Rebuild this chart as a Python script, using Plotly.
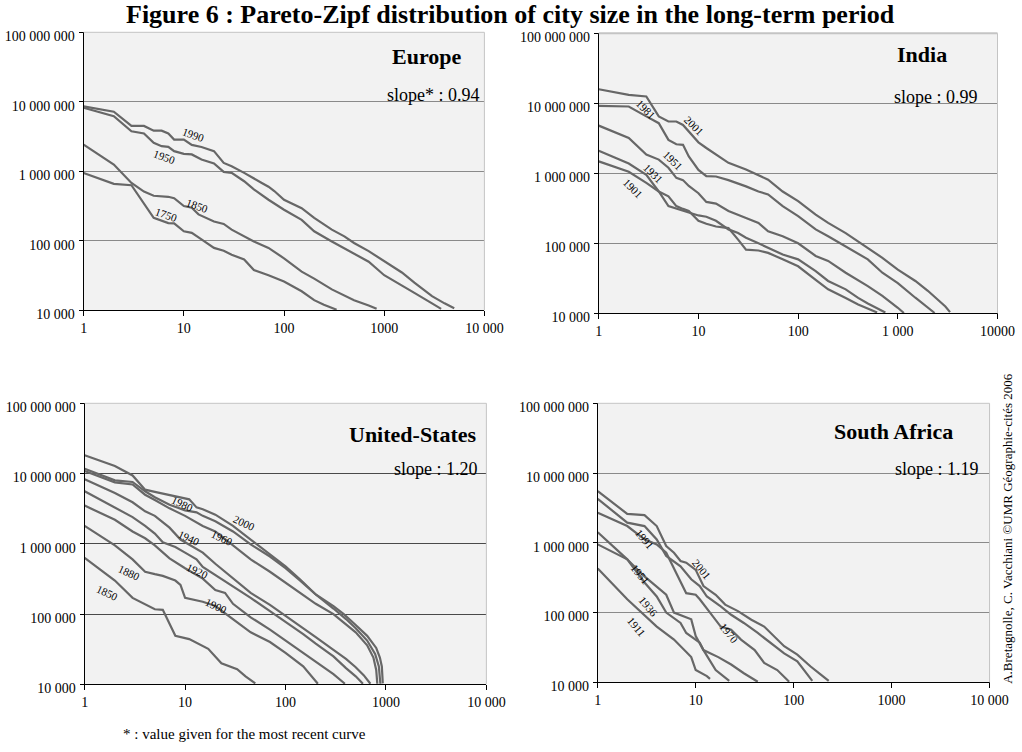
import plotly.graph_objects as go

# ---------------- data (rank, population) ----------------
# Europe
eu_1990_rank = [1, 2, 3, 4, 5, 6, 7, 8, 10, 12, 15, 17, 20, 25, 30, 40, 50, 60, 70, 80, 100, 150, 200, 300, 400, 500, 700, 1000, 1500, 2000, 3000, 4000, 5000]
eu_1990_pop = [8.6e6, 7.2e6, 4.5e6, 4.5e6, 3.85e6, 3.85e6, 3.5e6, 2.86e6, 2.86e6, 2.4e6, 2.24e6, 2.1e6, 1.95e6, 1.32e6, 1.18e6, 0.95e6, 0.80e6, 0.68e6, 0.60e6, 0.52e6, 0.39e6, 0.295e6, 0.214e6, 0.145e6, 0.116e6, 93e3, 71e3, 51e3, 35e3, 25e3, 16e3, 12.6e3, 10.7e3]
eu_1950_rank = [1, 2, 3, 4, 5, 6, 7, 8, 10, 12, 15, 20, 25, 30, 40, 50, 70, 100, 150, 200, 300, 500, 700, 1000, 1500, 2000, 3000, 3700]
eu_1950_pop = [8.2e6, 6.2e6, 3.76e6, 3.5e6, 2.57e6, 2.3e6, 2.25e6, 1.95e6, 1.78e6, 1.75e6, 1.48e6, 1.3e6, 0.98e6, 0.95e6, 0.72e6, 0.55e6, 0.39e6, 0.28e6, 0.20e6, 0.137e6, 98e3, 66e3, 50e3, 32e3, 23e3, 17.8e3, 12.6e3, 10.5e3]
eu_1850_rank = [1, 2, 3, 4, 5, 7, 8, 10, 12, 14, 20, 25, 30, 40, 50, 70, 100, 150, 200, 300, 500, 700, 840]
eu_1850_pop = [2.42e6, 1.25e6, 0.68e6, 0.51e6, 0.445e6, 0.43e6, 0.41e6, 0.316e6, 0.30e6, 0.24e6, 0.19e6, 0.175e6, 0.145e6, 0.116e6, 98e3, 79e3, 56e3, 36e3, 28.6e3, 20e3, 14e3, 11.7e3, 10.5e3]
eu_1750_rank = [1, 2, 3, 4, 5, 7, 8, 10, 12, 15, 20, 25, 30, 40, 50, 70, 100, 150, 200, 250, 300, 335]
eu_1750_pop = [0.946e6, 0.66e6, 0.63e6, 0.35e6, 0.214e6, 0.18e6, 0.178e6, 0.137e6, 0.13e6, 0.105e6, 79e3, 72e3, 63e3, 54e3, 38e3, 32e3, 26e3, 18.8e3, 14e3, 12e3, 10.7e3, 10.2e3]

# India
in_2001_rank = [1, 2, 3, 4, 5, 6, 7, 8, 10, 12, 15, 20, 30, 40, 50, 70, 100, 150, 200, 300, 500, 700, 1000, 1500, 2000, 2500, 3000, 3340]
in_2001_pop = [15.9e6, 13.2e6, 12.5e6, 6.5e6, 5.5e6, 5.5e6, 4.9e6, 4.0e6, 2.77e6, 2.3e6, 1.85e6, 1.41e6, 1.13e6, 0.95e6, 0.81e6, 0.55e6, 0.40e6, 0.257e6, 0.196e6, 0.14e6, 86e3, 62e3, 42e3, 29e3, 21e3, 16e3, 12.5e3, 10.4e3]
in_1981_rank = [1, 2, 3, 4, 5, 6, 7, 8, 10, 12, 15, 20, 30, 40, 50, 70, 100, 150, 200, 300, 500, 700, 1000, 1500, 2000, 2340]
in_1981_pop = [9.2e6, 9.0e6, 6.5e6, 5.2e6, 3.0e6, 2.6e6, 2.55e6, 1.74e6, 1.12e6, 0.91e6, 0.9e6, 0.8e6, 0.65e6, 0.55e6, 0.50e6, 0.34e6, 0.245e6, 0.158e6, 0.126e6, 91e3, 59e3, 38e3, 27e3, 16.7e3, 12e3, 10.1e3]
in_1951_rank = [1, 2, 3, 4, 5, 6, 7, 8, 10, 12, 15, 20, 30, 40, 50, 70, 100, 150, 200, 300, 500, 700, 1000, 1150]
in_1951_pop = [4.8e6, 3.2e6, 1.85e6, 1.57e6, 1.2e6, 0.86e6, 0.80e6, 0.66e6, 0.52e6, 0.39e6, 0.37e6, 0.29e6, 0.23e6, 0.196e6, 0.148e6, 0.126e6, 0.1e6, 66e3, 56e3, 38e3, 24.5e3, 17.7e3, 12e3, 10.1e3]
in_1931_rank = [1, 2, 3, 4, 5, 6, 7, 8, 10, 12, 15, 20, 25, 30, 40, 50, 70, 100, 150, 200, 300, 400, 500, 750]
in_1931_pop = [2.1e6, 1.38e6, 0.95e6, 0.55e6, 0.34e6, 0.31e6, 0.29e6, 0.275e6, 0.25e6, 0.24e6, 0.21e6, 0.158e6, 0.14e6, 0.12e6, 0.1e6, 87e3, 69e3, 59e3, 40e3, 29e3, 22e3, 16.6e3, 13.8e3, 10.3e3]
in_1901_rank = [1, 2, 3, 4, 5, 6, 7, 8, 10, 12, 15, 20, 25, 30, 40, 50, 70, 100, 150, 200, 300, 400, 620]
in_1901_pop = [1.48e6, 1.05e6, 0.73e6, 0.55e6, 0.47e6, 0.34e6, 0.31e6, 0.29e6, 0.21e6, 0.19e6, 0.174e6, 0.165e6, 0.113e6, 81e3, 79e3, 73e3, 59e3, 47e3, 30e3, 22e3, 16.6e3, 13.4e3, 10.3e3]

# United-States
us_2000_rank = [1, 2, 3, 4, 5, 7, 10, 11, 13, 15, 20, 30, 45, 70, 100, 140, 200, 300, 380, 500, 650, 800, 870, 910, 930]
us_2000_pop = [18.2e6, 12.8e6, 9.4e6, 5.9e6, 5.5e6, 5.0e6, 4.5e6, 4.3e6, 3.3e6, 3.1e6, 2.6e6, 1.8e6, 1.15e6, 0.72e6, 0.48e6, 0.31e6, 0.19e6, 0.13e6, 0.10e6, 70e3, 49e3, 33e3, 24e3, 18e3, 10.3e3]
us_1980_rank = [1, 2, 3, 4, 5, 7, 10, 13, 15, 20, 30, 45, 70, 100, 140, 200, 300, 400, 500, 650, 780, 850, 880]
us_1980_pop = [11.7e6, 8.0e6, 7.6e6, 5.6e6, 4.6e6, 3.6e6, 3.0e6, 2.8e6, 2.5e6, 2.1e6, 1.5e6, 0.98e6, 0.66e6, 0.45e6, 0.30e6, 0.19e6, 0.12e6, 85e3, 63e3, 42e3, 27e3, 18e3, 10.2e3]
us_1960_rank = [1, 2, 3, 4, 5, 7, 10, 15, 20, 30, 45, 70, 100, 140, 200, 300, 400, 500, 650, 750, 800, 820]
us_1960_pop = [10.9e6, 7.5e6, 7.0e6, 5.0e6, 4.2e6, 3.2e6, 2.5e6, 1.8e6, 1.5e6, 0.95e6, 0.60e6, 0.40e6, 0.28e6, 0.20e6, 0.14e6, 0.10e6, 72e3, 55e3, 36e3, 24e3, 16e3, 10.2e3]
us_1940_rank = [1, 2, 3, 4, 5, 7, 9, 12, 15, 20, 30, 45, 70, 100, 150, 200, 300, 400, 500, 600, 700]
us_1940_pop = [8.3e6, 5.3e6, 3.9e6, 2.9e6, 2.5e6, 1.7e6, 1.15e6, 0.9e6, 0.75e6, 0.52e6, 0.32e6, 0.20e6, 0.135e6, 95e3, 63e3, 47e3, 31e3, 23e3, 17.5e3, 13.5e3, 10.2e3]
us_1920_rank = [1, 2, 3, 4, 5, 6, 8, 10, 13, 15, 20, 30, 45, 70, 100, 150, 200, 300, 400, 500, 590]
us_1920_pop = [5.6e6, 3.3e6, 2.4e6, 1.8e6, 1.4e6, 1.05e6, 0.9e6, 0.75e6, 0.6e6, 0.47e6, 0.36e6, 0.25e6, 0.17e6, 0.11e6, 78e3, 52e3, 38e3, 25e3, 17e3, 13e3, 10.2e3]
us_1900_rank = [1, 2, 3, 4, 5, 7, 10, 15, 20, 25, 30, 45, 70, 100, 150, 200, 300, 390]
us_1900_pop = [3.5e6, 2.2e6, 1.5e6, 1.2e6, 0.95e6, 0.62e6, 0.45e6, 0.32e6, 0.22e6, 0.2e6, 0.14e6, 90e3, 60e3, 42e3, 28e3, 21e3, 14e3, 10.2e3]
us_1880_rank = [1, 2, 3, 4, 5, 6, 8, 9, 10, 15, 20, 30, 45, 70, 100, 150, 210]
us_1880_pop = [1.8e6, 0.95e6, 0.6e6, 0.4e6, 0.37e6, 0.35e6, 0.3e6, 0.26e6, 0.17e6, 0.15e6, 0.13e6, 85e3, 55e3, 40e3, 28e3, 18e3, 10.2e3]
us_1850_rank = [1, 2, 3, 5, 6, 8, 11, 17, 23, 33, 40, 50]
us_1850_pop = [0.63e6, 0.3e6, 0.17e6, 0.117e6, 0.115e6, 49e3, 44e3, 32e3, 20e3, 16.4e3, 13e3, 10.3e3]

# South Africa
sa_2001_rank = [1, 2, 3, 4, 5, 6, 7, 8, 10, 12, 16, 20, 27, 37, 50, 63, 80, 109, 148, 188, 228]
sa_2001_pop = [5.5e6, 2.6e6, 2.5e6, 1.74e6, 0.9e6, 0.72e6, 0.55e6, 0.52e6, 0.41e6, 0.24e6, 0.18e6, 0.13e6, 0.105e6, 79e3, 63e3, 46e3, 33e3, 25e3, 17e3, 13e3, 10.5e3]
sa_1991_rank = [1, 2, 3, 4, 5, 7, 9, 11, 13, 18, 23, 31, 43, 58, 80, 109, 155]
sa_1991_pop = [4.26e6, 1.95e6, 1.74e6, 1.12e6, 0.65e6, 0.46e6, 0.30e6, 0.24e6, 0.17e6, 0.123e6, 93e3, 71e3, 51e3, 37e3, 26e3, 20e3, 10.5e3]
sa_1970_rank = [1, 2, 3, 4, 5, 6, 8, 10, 11, 14, 18, 23, 29, 40, 50, 68, 90]
sa_1970_pop = [2.7e6, 1.74e6, 1.12e6, 0.95e6, 0.72e6, 0.42e6, 0.19e6, 0.18e6, 0.155e6, 0.1e6, 63e3, 57e3, 41e3, 29e3, 19e3, 15e3, 10.2e3]
sa_1951_rank = [1, 2, 3, 4, 5, 7, 8, 11, 12, 17, 23, 31, 43]
sa_1951_pop = [1.42e6, 0.58e6, 0.27e6, 0.17e6, 0.1e6, 71e3, 51e3, 37e3, 29e3, 23e3, 18e3, 13.5e3, 10.2e3]
sa_1936_rank = [1, 2, 3, 5, 6, 9, 10, 12, 16, 22]
sa_1936_pop = [0.95e6, 0.58e6, 0.33e6, 0.18e6, 0.1e6, 80e3, 46e3, 29e3, 15e3, 10.5e3]
sa_1911_rank = [1, 2, 4, 6, 9, 10, 13, 14]
sa_1911_pop = [0.43e6, 0.155e6, 63e3, 41e3, 23e3, 15e3, 12.3e3, 11.2e3]

y_tickvals = [1e4, 1e5, 1e6, 1e7, 1e8]
y_ticktext = ["10 000", "100 000", "1 000 000", "10 000 000", "100 000 000"]
x_tickvals = [1, 10, 100, 1000, 10000]
eu_xticks = ["1", "10", "100", "1000", "10 000"]
in_xticks = ["1", "10", "100", "1 000", "10000"]
us_xticks = ["1", "10", "100", "1000", "10 000"]
sa_xticks = ["1", "10", "100", "1000", "10 000"]

# label positions: (text, log10 rank, log10 pop)
eu_labels = [("1990", 1.10, 6.52), ("1950", 0.81, 6.20), ("1850", 1.14, 5.50), ("1750", 0.83, 5.37)]
in_labels = [("1981", 0.47, 6.92), ("2001", 0.96, 6.68), ("1951", 0.74, 6.19), ("1931", 0.54, 6.00), ("1901", 0.34, 5.79)]
us_labels = [("1980", 0.975, 6.56), ("2000", 1.59, 6.30), ("1940", 1.04, 6.09), ("1960", 1.37, 6.09),
             ("1920", 1.12, 5.61), ("1880", 0.45, 5.59), ("1900", 1.31, 5.12), ("1850", 0.23, 5.30)]
sa_labels = [("1991", 0.48, 6.06), ("2001", 1.06, 5.63), ("1951", 0.43, 5.55), ("1936", 0.52, 5.08),
             ("1911", 0.40, 4.80), ("1970", 1.34, 4.71)]

# ---------------- figure ----------------
SERIF = "Liberation Serif, Times New Roman, serif"
LINE = dict(color="#676767", width=2.2)

panels = [
    ("x", "y", [eu_1990_rank, eu_1950_rank, eu_1850_rank, eu_1750_rank], [eu_1990_pop, eu_1950_pop, eu_1850_pop, eu_1750_pop]),
    ("x2", "y2", [in_2001_rank, in_1981_rank, in_1951_rank, in_1931_rank, in_1901_rank], [in_2001_pop, in_1981_pop, in_1951_pop, in_1931_pop, in_1901_pop]),
    ("x3", "y3", [us_2000_rank, us_1980_rank, us_1960_rank, us_1940_rank, us_1920_rank, us_1900_rank, us_1880_rank, us_1850_rank],
     [us_2000_pop, us_1980_pop, us_1960_pop, us_1940_pop, us_1920_pop, us_1900_pop, us_1880_pop, us_1850_pop]),
    ("x4", "y4", [sa_2001_rank, sa_1991_rank, sa_1970_rank, sa_1951_rank, sa_1936_rank, sa_1911_rank],
     [sa_2001_pop, sa_1991_pop, sa_1970_pop, sa_1951_pop, sa_1936_pop, sa_1911_pop]),
]

fig = go.Figure()
for xa, ya, ranks, pops in panels:
    for r, p in zip(ranks, pops):
        fig.add_trace(go.Scatter(x=r, y=p, mode="lines", line=LINE, xaxis=xa, yaxis=ya,
                                 showlegend=False, hoverinfo="skip"))

W, H = 1022, 752
# compensation of the small scale/offset seen in the photographed page
def PX(v):
    return (v - 1.9) / 0.983
def PY(v):
    return (v - 6.7) / 0.98

def xdom(a, b):
    return [PX(a) / W, PX(b) / W]
def ydom(top, bottom):
    return [1 - PY(bottom) / H, 1 - PY(top) / H]

def xaxis(domain, anchor, ticktext):
    return dict(type="log", range=[0, 4], domain=domain, anchor=anchor, tickvals=x_tickvals,
                ticktext=ticktext, ticks="outside", ticklen=5, tickcolor="black", showline=True,
                linecolor="black", linewidth=1, showgrid=False, zeroline=False,
                tickfont=dict(family=SERIF, size=14, color="black"), fixedrange=True)

def yaxis(domain, anchor, gridcolor):
    return dict(type="log", range=[4, 8], domain=domain, anchor=anchor, tickvals=y_tickvals,
                ticktext=y_ticktext, ticks="outside", ticklen=4, tickcolor="black", showline=True,
                linecolor="black", linewidth=1, showgrid=True, gridcolor=gridcolor, gridwidth=1,
                zeroline=False, ticklabelshift=4, ticklabelstandoff=1,
                tickfont=dict(family=SERIF, size=14, color="black"), fixedrange=True)

fig.update_layout(
    width=W, height=H, margin=dict(l=0, r=0, t=0, b=0),
    paper_bgcolor="white", plot_bgcolor="#f2f2f2",
    xaxis=xaxis(xdom(82, 485), "y", eu_xticks),
    yaxis=yaxis(ydom(36, 314), "x", "#8a8a8a"),
    xaxis2=xaxis(xdom(600, 1001), "y2", in_xticks),
    yaxis2=yaxis(ydom(37, 317), "x2", "#8a8a8a"),
    xaxis3=xaxis(xdom(83, 487), "y3", us_xticks),
    yaxis3=yaxis(ydom(407, 688), "x3", "#4a4a4a"),
    xaxis4=xaxis(xdom(599, 993), "y4", sa_xticks),
    yaxis4=yaxis(ydom(407, 686), "x4", "#8a8a8a"),
)

annotations = []
shapes = []
panel_info = [
    ("x", "y", "Europe", 0.856, 0.914, "slope* : 0.94", 0.995, 0.776, eu_labels, 20),
    ("x2", "y2", "India", 0.81, 0.926, "slope : 0.99", 0.955, 0.774, in_labels, 45),
    ("x3", "y3", "United-States", 0.817, 0.89, "slope : 1.20", 0.985, 0.765, us_labels, 25),
    ("x4", "y4", "South Africa", 0.756, 0.90, "slope : 1.19", 0.977, 0.763, sa_labels, 50),
]
for xa, ya, title, tx, ty, slope, sx, sy, labels, ang in panel_info:
    annotations.append(dict(text="<b>" + title + "</b>", xref=xa + " domain", yref=ya + " domain",
                            x=tx, y=ty, xanchor="center", yanchor="middle", showarrow=False,
                            font=dict(family=SERIF, size=22, color="black")))
    annotations.append(dict(text=slope, xref=xa + " domain", yref=ya + " domain", x=sx, y=sy,
                            xanchor="right", yanchor="middle", showarrow=False,
                            font=dict(family=SERIF, size=18, color="black")))
    for t, lx, ly in labels:
        annotations.append(dict(text=t, xref=xa, yref=ya, x=lx, y=ly, showarrow=False, textangle=ang,
                                xanchor="center", yanchor="middle",
                                font=dict(family=SERIF, size=11, color="black")))
    # light border top and right
    shapes.append(dict(type="line", xref=xa + " domain", yref=ya + " domain", x0=0, x1=1, y0=1, y1=1,
                       line=dict(color="#c4c4c4", width=2 if xa == "x2" else 1)))
    shapes.append(dict(type="line", xref=xa + " domain", yref=ya + " domain", x0=1, x1=1, y0=0, y1=1,
                       line=dict(color="#c4c4c4", width=1)))

annotations.append(dict(text="<b>Figure 6 : Pareto-Zipf distribution of city size in the long-term period</b>",
                        xref="paper", yref="paper", x=PX(511) / W, y=1 - PY(2) / H, xanchor="center",
                        yanchor="top", showarrow=False,
                        font=dict(family=SERIF, size=26, color="black")))
annotations.append(dict(text="* : value given for the most recent curve", xref="paper", yref="paper",
                        x=PX(120) / W, y=1 - PY(738) / H, xanchor="left", yanchor="middle", showarrow=False,
                        font=dict(family=SERIF, size=15, color="black")))
annotations.append(dict(text="A.Bretagnolle, C. Vacchiani ©UMR Géographie-cités 2006", xref="paper", yref="paper",
                        x=PX(1011) / W, y=1 - PY(532) / H, textangle=-90, xanchor="center", yanchor="middle", showarrow=False,
                        font=dict(family=SERIF, size=13, color="black")))

fig.update_layout(annotations=annotations, shapes=shapes)
fig.write_html("out.html", config={"displayModeBar": False},
               post_script="document.body.style.margin='0px';document.body.style.overflow='hidden';")
